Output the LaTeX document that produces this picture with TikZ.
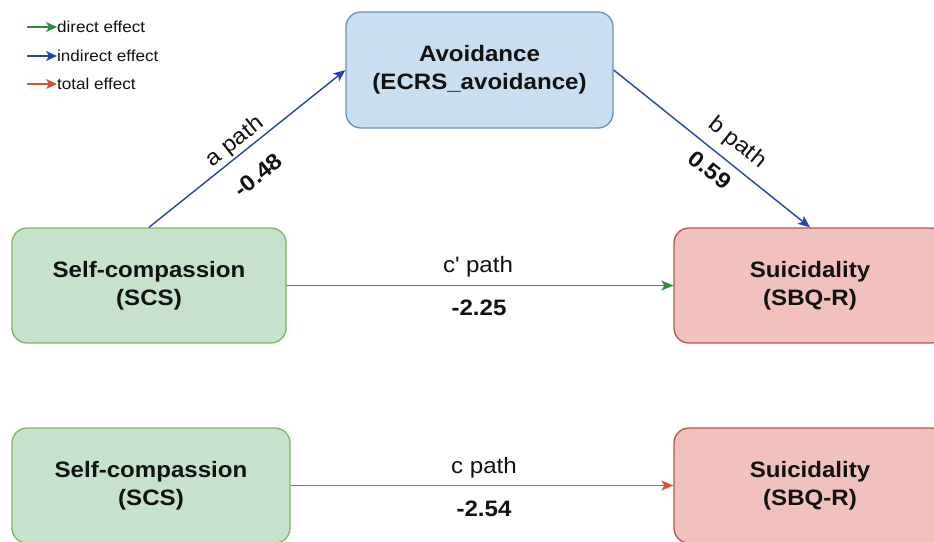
\documentclass[tikz,border=0pt]{standalone}
\usepackage{fontspec}
\setmainfont{Liberation Sans}[FakeStretch=1.08]
\usetikzlibrary{arrows.meta}
\definecolor{gfill}{HTML}{C6E2CC}
\definecolor{gline}{HTML}{82B366}
\definecolor{bfill}{HTML}{C9DFF1}
\definecolor{bline}{HTML}{6C8EBF}
\definecolor{rfill}{HTML}{F1C1BD}
\definecolor{rline}{HTML}{B85450}
\definecolor{gedge}{HTML}{2F8A3B}
\definecolor{bedge}{HTML}{2446A8}
\definecolor{redge}{HTML}{D2553A}
\definecolor{txt}{HTML}{111111}
\tikzset{
  box/.style={rectangle, rounded corners=15pt, line width=1.3pt, inner sep=0pt,
    align=center, text=txt, font=\bfseries\fontsize{22.3}{28}\selectfont},
  gbox/.style={box, draw=gline, fill=gfill, minimum width=274pt, minimum height=115pt},
  bbox/.style={box, draw=bline, fill=bfill, minimum width=267pt, minimum height=116pt},
  rbox/.style={box, draw=rline, fill=rfill, minimum width=272pt, minimum height=115pt},
  edge/.style={line width=1.4pt, -{Stealth[length=12pt,width=10pt,inset=3pt]}},
  lab/.style={text=txt, inner sep=0pt, font=\fontsize{22.3}{26}\selectfont},
  num/.style={text=txt, inner sep=0pt, font=\bfseries\fontsize{22.3}{26}\selectfont},
  leg/.style={text=txt, inner sep=0pt, anchor=west, font=\fontsize{15.8}{18}\selectfont},
  legarrow/.style={line width=1.4pt, -{Stealth[length=11pt,width=10pt,inset=3pt]}}
}
\begin{document}
\begin{tikzpicture}[x=1pt,y=-1pt]
\useasboundingbox (0,0) rectangle (934,541);
\clip (0,0) rectangle (934,541);
\fill[white] (0,0) rectangle (934,541);

% legend
\coordinate (l1s) at (27,27);
\coordinate (l2s) at (27,56);
\coordinate (l3s) at (27,84);
\node[leg] (l1) at (57,27) {direct effect};
\node[leg] (l2) at (57,56) {indirect effect};
\node[leg] (l3) at (57,84) {total effect};
\draw[legarrow, gedge] (l1s) -- (l1.west);
\draw[legarrow, bedge] (l2s) -- (l2.west);
\draw[legarrow, redge] (l3s) -- (l3.west);

% nodes
\node[bbox] (avoid) at (479.5,70) {Avoidance\\(ECRS\_avoidance)};
\node[gbox] (scs1) at (149,285.5) {Self-compassion\\(SCS)};
\node[rbox] (sui1) at (810,285.5) {Suicidality\\(SBQ-R)};
\node[gbox, minimum width=278pt] (scs2) at (151,485.5) {Self-compassion\\(SCS)};
\node[rbox] (sui2) at (810,485.5) {Suicidality\\(SBQ-R)};

% edges
\draw[edge, bedge] (scs1.north) -- (avoid.west);
\draw[edge, bedge] (avoid.east) -- (sui1.north);
\draw[edge, gedge] (scs1.east) -- (sui1.west);
\draw[edge, redge] (scs2.east) -- (sui2.west);

% labels
\node[lab, rotate=38.6] (alab) at (235,142) {a path};
\node[num, rotate=38.6] (anum) at (258,175) {-0.48};
\node[lab, rotate=-38.7] (blab) at (737,143) {b path};
\node[num, rotate=-38.7] (bnum) at (710,170) {0.59};
\node[lab, anchor=base] (cplab) at (478,272) {c\textquotesingle{} path};
\node[num, anchor=base] (cpnum) at (479,315) {-2.25};
\node[lab, anchor=base] (clab) at (484,473) {c path};
\node[num, anchor=base] (cnum) at (484,516) {-2.54};
\end{tikzpicture}
\end{document}
